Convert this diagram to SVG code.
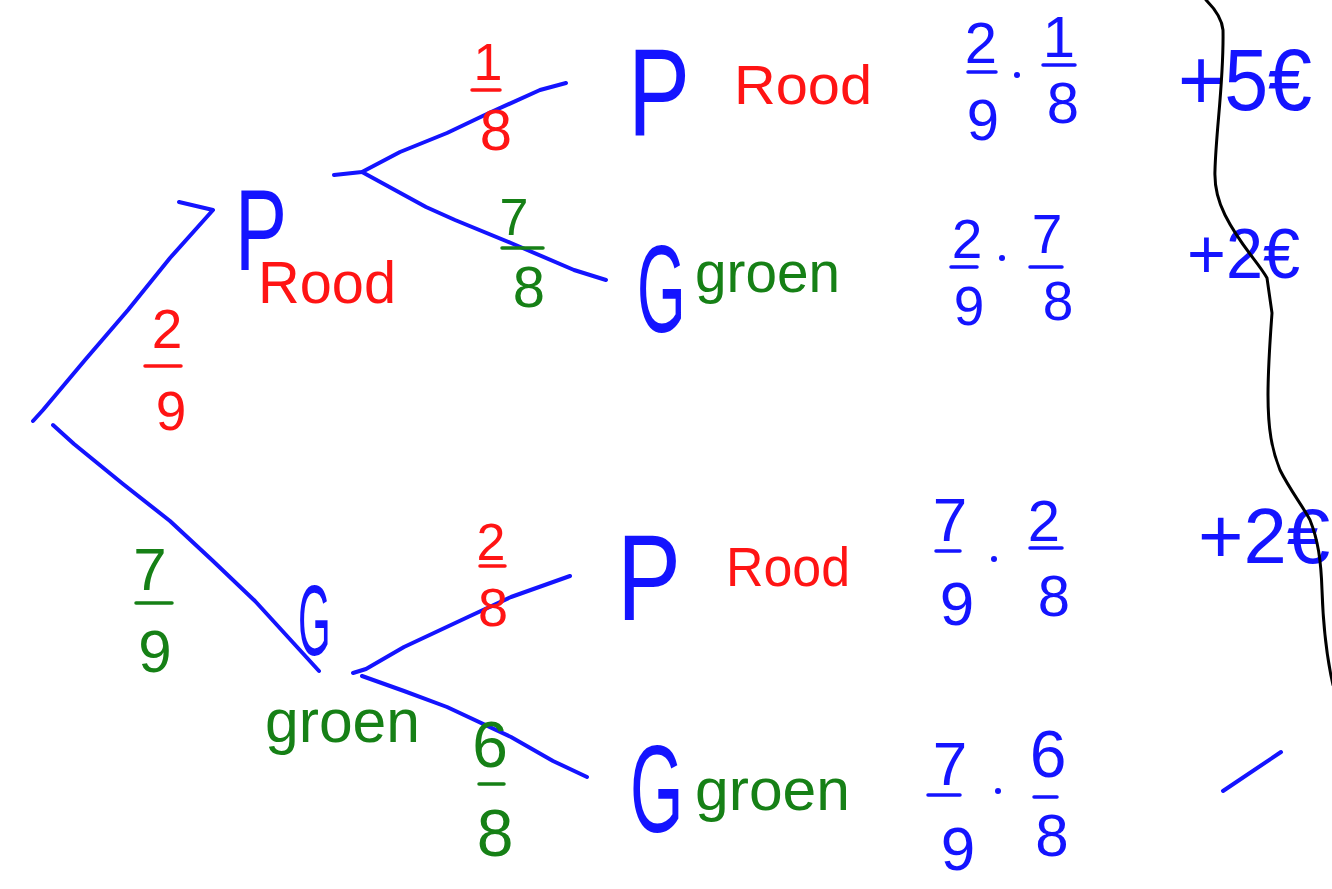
<svg xmlns="http://www.w3.org/2000/svg" width="1332" height="889" viewBox="0 0 1332 889">
<style>
text{font-family:"Liberation Sans","DejaVu Sans",sans-serif;}
.b{fill:#1414ff}.r{fill:#ff1414}.g{fill:#168016}
.frac text{text-anchor:middle}
.bar{stroke-width:3.5;stroke-linecap:round}
.bl{stroke:#1414ff}.rl{stroke:#ff1414}.gl{stroke:#168016}
.edge{fill:none;stroke:#1414ff;stroke-width:4;stroke-linecap:round;stroke-linejoin:round}
</style>
<rect width="1332" height="889" fill="#fff"/>

<g id="connectors">
<path class="edge" d="M33,421 L43,410 L85,360 L128,310 L170,258 L213,210 L179,202"/>
<path class="edge" d="M53,425 L74,444 L123,484 L170,521 L213,561 L255,601 L319,671"/>
<path class="edge" d="M334,175 L362,172 L400,152 L447,133 L489,113 L540,90 L566,83"/>
<path class="edge" d="M362,172 L426,207 L455,220 L511,243 L574,270 L606,280"/>
<path class="edge" d="M353,673 L366,669 L404,647 L468,617 L511,597 L570,576"/>
<path class="edge" d="M362,676 L404,691 L447,707 L511,737 L553,761 L587,777"/>
</g>

<g id="edge-labels">
<g class="frac r"><text x="167" y="348" font-size="55">2</text><line class="bar rl" x1="145" y1="366" x2="181" y2="366"/><text x="171" y="430" font-size="55">9</text></g>
<g class="frac g"><text x="150" y="590" font-size="60">7</text><line class="bar gl" x1="136" y1="603" x2="172" y2="603"/><text x="155" y="672" font-size="60">9</text></g>
<g class="frac r"><text x="488" y="80" font-size="52">1</text><line class="bar rl" x1="472" y1="90" x2="500" y2="90"/><text x="496" y="150" font-size="58">8</text></g>
<g class="frac g"><text x="514" y="235" font-size="52">7</text><line class="bar gl" x1="502" y1="248" x2="543" y2="248"/><text x="529" y="307" font-size="58">8</text></g>
<g class="frac r"><text x="491" y="560" font-size="52">2</text><line class="bar rl" x1="480" y1="566" x2="505" y2="566"/><text x="493" y="626" font-size="54">8</text></g>
<g class="frac g"><text x="490" y="767" font-size="64">6</text><line class="bar gl" x1="479" y1="784" x2="504" y2="784"/><text x="495" y="856" font-size="66">8</text></g>
</g>

<g id="node-P-rood">
<text class="b" x="235" y="270" font-size="115" textLength="52" lengthAdjust="spacingAndGlyphs">P</text>
<text class="r" x="258" y="303" font-size="60" textLength="138" lengthAdjust="spacingAndGlyphs">Rood</text>
</g>

<g id="node-G-groen">
<text class="b" transform="translate(298,655) scale(0.42,1)" font-size="100">G</text>
<text class="g" x="265" y="742" font-size="62" textLength="155" lengthAdjust="spacingAndGlyphs">groen</text>
</g>

<g id="leaf-PP">
<text class="b" x="628" y="135" font-size="125" textLength="62" lengthAdjust="spacingAndGlyphs">P</text>
<text class="r" x="734" y="104" font-size="55" textLength="138" lengthAdjust="spacingAndGlyphs">Rood</text>
<g class="frac b"><text x="981" y="63" font-size="58">2</text><line class="bar bl" x1="968" y1="72" x2="996" y2="72"/><text x="983" y="140" font-size="58">9</text></g>
<circle class="b" cx="1017" cy="75" r="3"/>
<g class="frac b"><text x="1059" y="57" font-size="58">1</text><line class="bar bl" x1="1043" y1="65" x2="1075" y2="65"/><text x="1063" y="123" font-size="58">8</text></g>
<text class="b" x="1178" y="110" font-size="88" textLength="134" lengthAdjust="spacingAndGlyphs">+5€</text>
</g>

<g id="leaf-PG">
<text class="b" transform="translate(637,332) scale(0.5,1)" font-size="125">G</text>
<text class="g" x="695" y="292" font-size="58" textLength="145" lengthAdjust="spacingAndGlyphs">groen</text>
<g class="frac b"><text x="967" y="258" font-size="55">2</text><line class="bar bl" x1="951" y1="267" x2="977" y2="267"/><text x="969" y="325" font-size="55">9</text></g>
<circle class="b" cx="1002" cy="258" r="3"/>
<g class="frac b"><text x="1047" y="253" font-size="55">7</text><line class="bar bl" x1="1030" y1="267" x2="1062" y2="267"/><text x="1058" y="320" font-size="55">8</text></g>
<text class="b" x="1187" y="278" font-size="70" textLength="113" lengthAdjust="spacingAndGlyphs">+2€</text>
</g>

<g id="leaf-GP">
<text class="b" x="617" y="620" font-size="122" textLength="64" lengthAdjust="spacingAndGlyphs">P</text>
<text class="r" x="726" y="586" font-size="55" textLength="124" lengthAdjust="spacingAndGlyphs">Rood</text>
<g class="frac b"><text x="950" y="541" font-size="62">7</text><line class="bar bl" x1="936" y1="551" x2="960" y2="551"/><text x="957" y="625" font-size="62">9</text></g>
<circle class="b" cx="994" cy="559" r="3"/>
<g class="frac b"><text x="1044" y="541" font-size="58">2</text><line class="bar bl" x1="1030" y1="548" x2="1062" y2="548"/><text x="1054" y="616" font-size="58">8</text></g>
<text class="b" x="1198" y="563" font-size="78" textLength="132" lengthAdjust="spacingAndGlyphs">+2€</text>
</g>

<g id="leaf-GG">
<text class="b" transform="translate(630,832) scale(0.55,1)" font-size="125">G</text>
<text class="g" x="695" y="810" font-size="60" textLength="155" lengthAdjust="spacingAndGlyphs">groen</text>
<g class="frac b"><text x="950" y="785" font-size="62">7</text><line class="bar bl" x1="928" y1="795" x2="960" y2="795"/><text x="958" y="870" font-size="62">9</text></g>
<circle class="b" cx="998" cy="791" r="3"/>
<g class="frac b"><text x="1048" y="777" font-size="66">6</text><line class="bar bl" x1="1034" y1="797" x2="1057" y2="797"/><text x="1052" y="856" font-size="60">8</text></g>
<path d="M1223,791 L1281,752" fill="none" stroke="#1414ff" stroke-width="4" stroke-linecap="round"/>
</g>

<path id="divider" d="M1206,0 C1216,10 1222,20 1223,30 C1224,80 1216,130 1215,170 C1214,190 1220,205 1225,215 C1240,245 1258,262 1267,278 L1272,313 C1270,340 1268,370 1268,395 C1268,430 1272,450 1280,470 C1290,490 1302,505 1310,520 C1318,540 1321,560 1322,590 C1323,620 1325,650 1333,685" fill="none" stroke="#000" stroke-width="3" stroke-linecap="round"/>
</svg>
